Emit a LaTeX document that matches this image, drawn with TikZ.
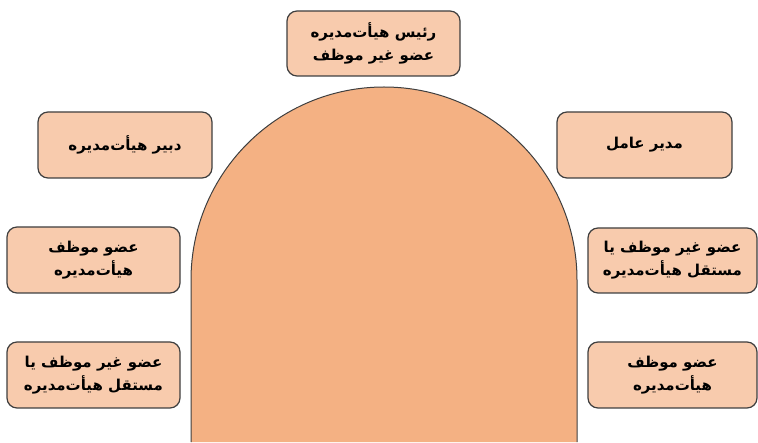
\documentclass[tikz,border=0pt]{standalone}
\usepackage{fontspec}
\newfontfamily\fafont[Script=Arabic]{DejaVu Sans}
\TeXXeTstate=1
\definecolor{archfill}{HTML}{F4B183}
\definecolor{boxfill}{HTML}{F8CBAD}
\definecolor{edge}{HTML}{3F3F3F}
\tikzset{
  rolebox/.style={draw=edge, line width=1.2pt, fill=boxfill, rounded corners=10pt,
    inner sep=0pt, align=center, font=\fafont\bfseries\fontsize{15}{23}\selectfont},
}
\newcommand{\rl}[1]{\beginR #1\endR}
\begin{document}
\begin{tikzpicture}[x=1pt,y=1pt]
\useasboundingbox (0,0) rectangle (758,442);
% central arch
\path[fill=archfill] (191,0) -- (191,162) arc[start angle=180,end angle=0,radius=193pt] -- (577,0) -- cycle;
\draw[edge, line width=1pt] (191,0) -- (191,162) arc[start angle=180,end angle=0,radius=193pt] -- (577,0);
% role boxes
\node[rolebox, minimum width=173pt, minimum height=65pt] (chair) at (373.5,398.5) {\rl{رئیس هیأت‌مدیره}\\\rl{عضو غیر موظف}};
\node[rolebox, minimum width=174pt, minimum height=66pt] (secretary) at (125,297) {\rl{دبیر هیأت‌مدیره}};
\node[rolebox, minimum width=173pt, minimum height=66pt] (execL) at (93.5,182) {\rl{عضو موظف}\\\rl{هیأت‌مدیره}};
\node[rolebox, minimum width=173pt, minimum height=66pt] (indepL) at (93.5,67) {\rl{عضو غیر موظف یا}\\\rl{مستقل هیأت‌مدیره}};
\node[rolebox, minimum width=175pt, minimum height=66pt] (ceo) at (644.5,297) {\rl{مدیر عامل}};
\node[rolebox, minimum width=169pt, minimum height=65pt] (indepR) at (672.5,181.5) {\rl{عضو غیر موظف یا}\\\rl{مستقل هیأت‌مدیره}};
\node[rolebox, minimum width=169pt, minimum height=66pt] (execR) at (672.5,67) {\rl{عضو موظف}\\\rl{هیأت‌مدیره}};
\end{tikzpicture}
\end{document}
